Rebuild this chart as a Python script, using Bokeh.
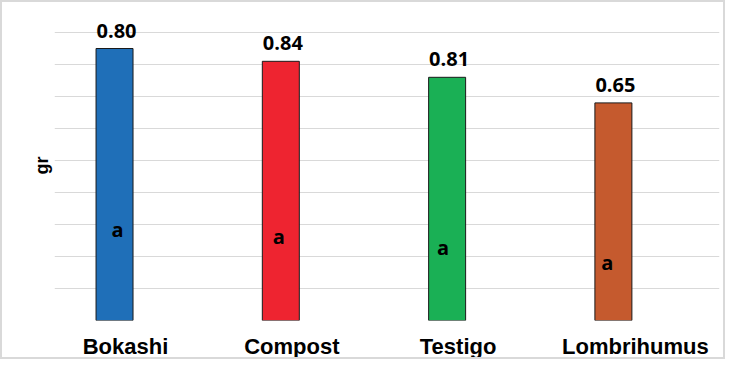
from bokeh.plotting import figure
from bokeh.models import FixedTicker, ColumnDataSource, Range1d, CustomJSTickFormatter, Title
from bokeh.embed import file_html
from bokeh.resources import INLINE
from bokeh.core.properties import value

# ---- data ----
categories = ["Bokashi", "Compost", "Testigo", "Lombrihumus"]
bar_values = [0.85, 0.81, 0.76, 0.68]
value_labels = ["0.80", "0.84", "0.81", "0.65"]
group_letters = ["a", "a", "a", "a"]
bar_colors = ["#1F6FB8", "#EE2430", "#1AB055", "#C55A2E"]
grid_ticks = [0.0, 0.1, 0.2, 0.3, 0.4, 0.5, 0.6, 0.7, 0.8, 0.9]
y_label = "gr"

# ---- annotation placement ----
letter_y = [0.284, 0.263, 0.227, 0.182]
letter_dx = [3, -2, -4, -6]
label_shift = [0.066, 0.066, 0.066, 0.132]

xs = list(range(len(categories)))
src = ColumnDataSource(dict(
    x=xs, top=bar_values, color=bar_colors, lab=value_labels,
    ly=letter_y, letter=group_letters, ldx=letter_dx,
))

p = figure(width=725, height=359, output_backend="svg", toolbar_location=None,
           x_range=Range1d(-0.361, 3.638), y_range=Range1d(0, 0.96875),
           min_border_left=52, min_border_right=8, min_border_top=8,
           min_border_bottom=41)
p.styles = {"border": "2px solid #d9d9d9"}
p.outline_line_color = None
p.background_fill_color = "white"
p.border_fill_color = "white"

p.vbar(x="x", top="top", bottom=0, width=0.2225, source=src,
       fill_color="color", line_color="#1a1a1a", line_width=1)

p.text(x="x", y="top", text="lab", source=src, x_offset=2, y_offset=-18,
       text_align="center", text_baseline="alphabetic",
       text_font=value("Open Sans"), text_font_style="bold",
       text_font_size="20px", text_color="black")

p.text(x="x", y="ly", text="letter", source=src, x_offset="ldx",
       text_align="center", text_baseline="middle",
       text_font=value("Open Sans"), text_font_style="bold",
       text_font_size="20px", text_color="black")

# grid
p.xgrid.visible = False
p.ygrid.ticker = FixedTicker(ticks=grid_ticks)
p.ygrid.grid_line_color = "#d9d9d9"
p.ygrid.grid_line_width = 1
p.yaxis.visible = False

# x axis
p.xaxis.ticker = FixedTicker(ticks=[i + s for i, s in zip(xs, label_shift)])
p.xaxis.formatter = CustomJSTickFormatter(args=dict(names=categories),
                                          code="return names[Math.round(tick)];")
p.xaxis.axis_line_color = None
p.xaxis.major_tick_line_color = None
p.xaxis.minor_tick_line_color = None
p.xaxis.major_label_text_font = "Liberation Sans"
p.xaxis.major_label_text_font_style = "bold"
p.xaxis.major_label_text_font_size = "22px"
p.xaxis.major_label_text_color = "black"
p.xaxis.major_label_standoff = 7

# y label as a left title
p.add_layout(Title(text=y_label, align="center", offset=32, standoff=6,
                   text_font="Liberation Sans", text_font_style="bold",
                   text_font_size="18px", text_color="black"), "left")

open("out.html", "w").write(file_html(p, INLINE))
